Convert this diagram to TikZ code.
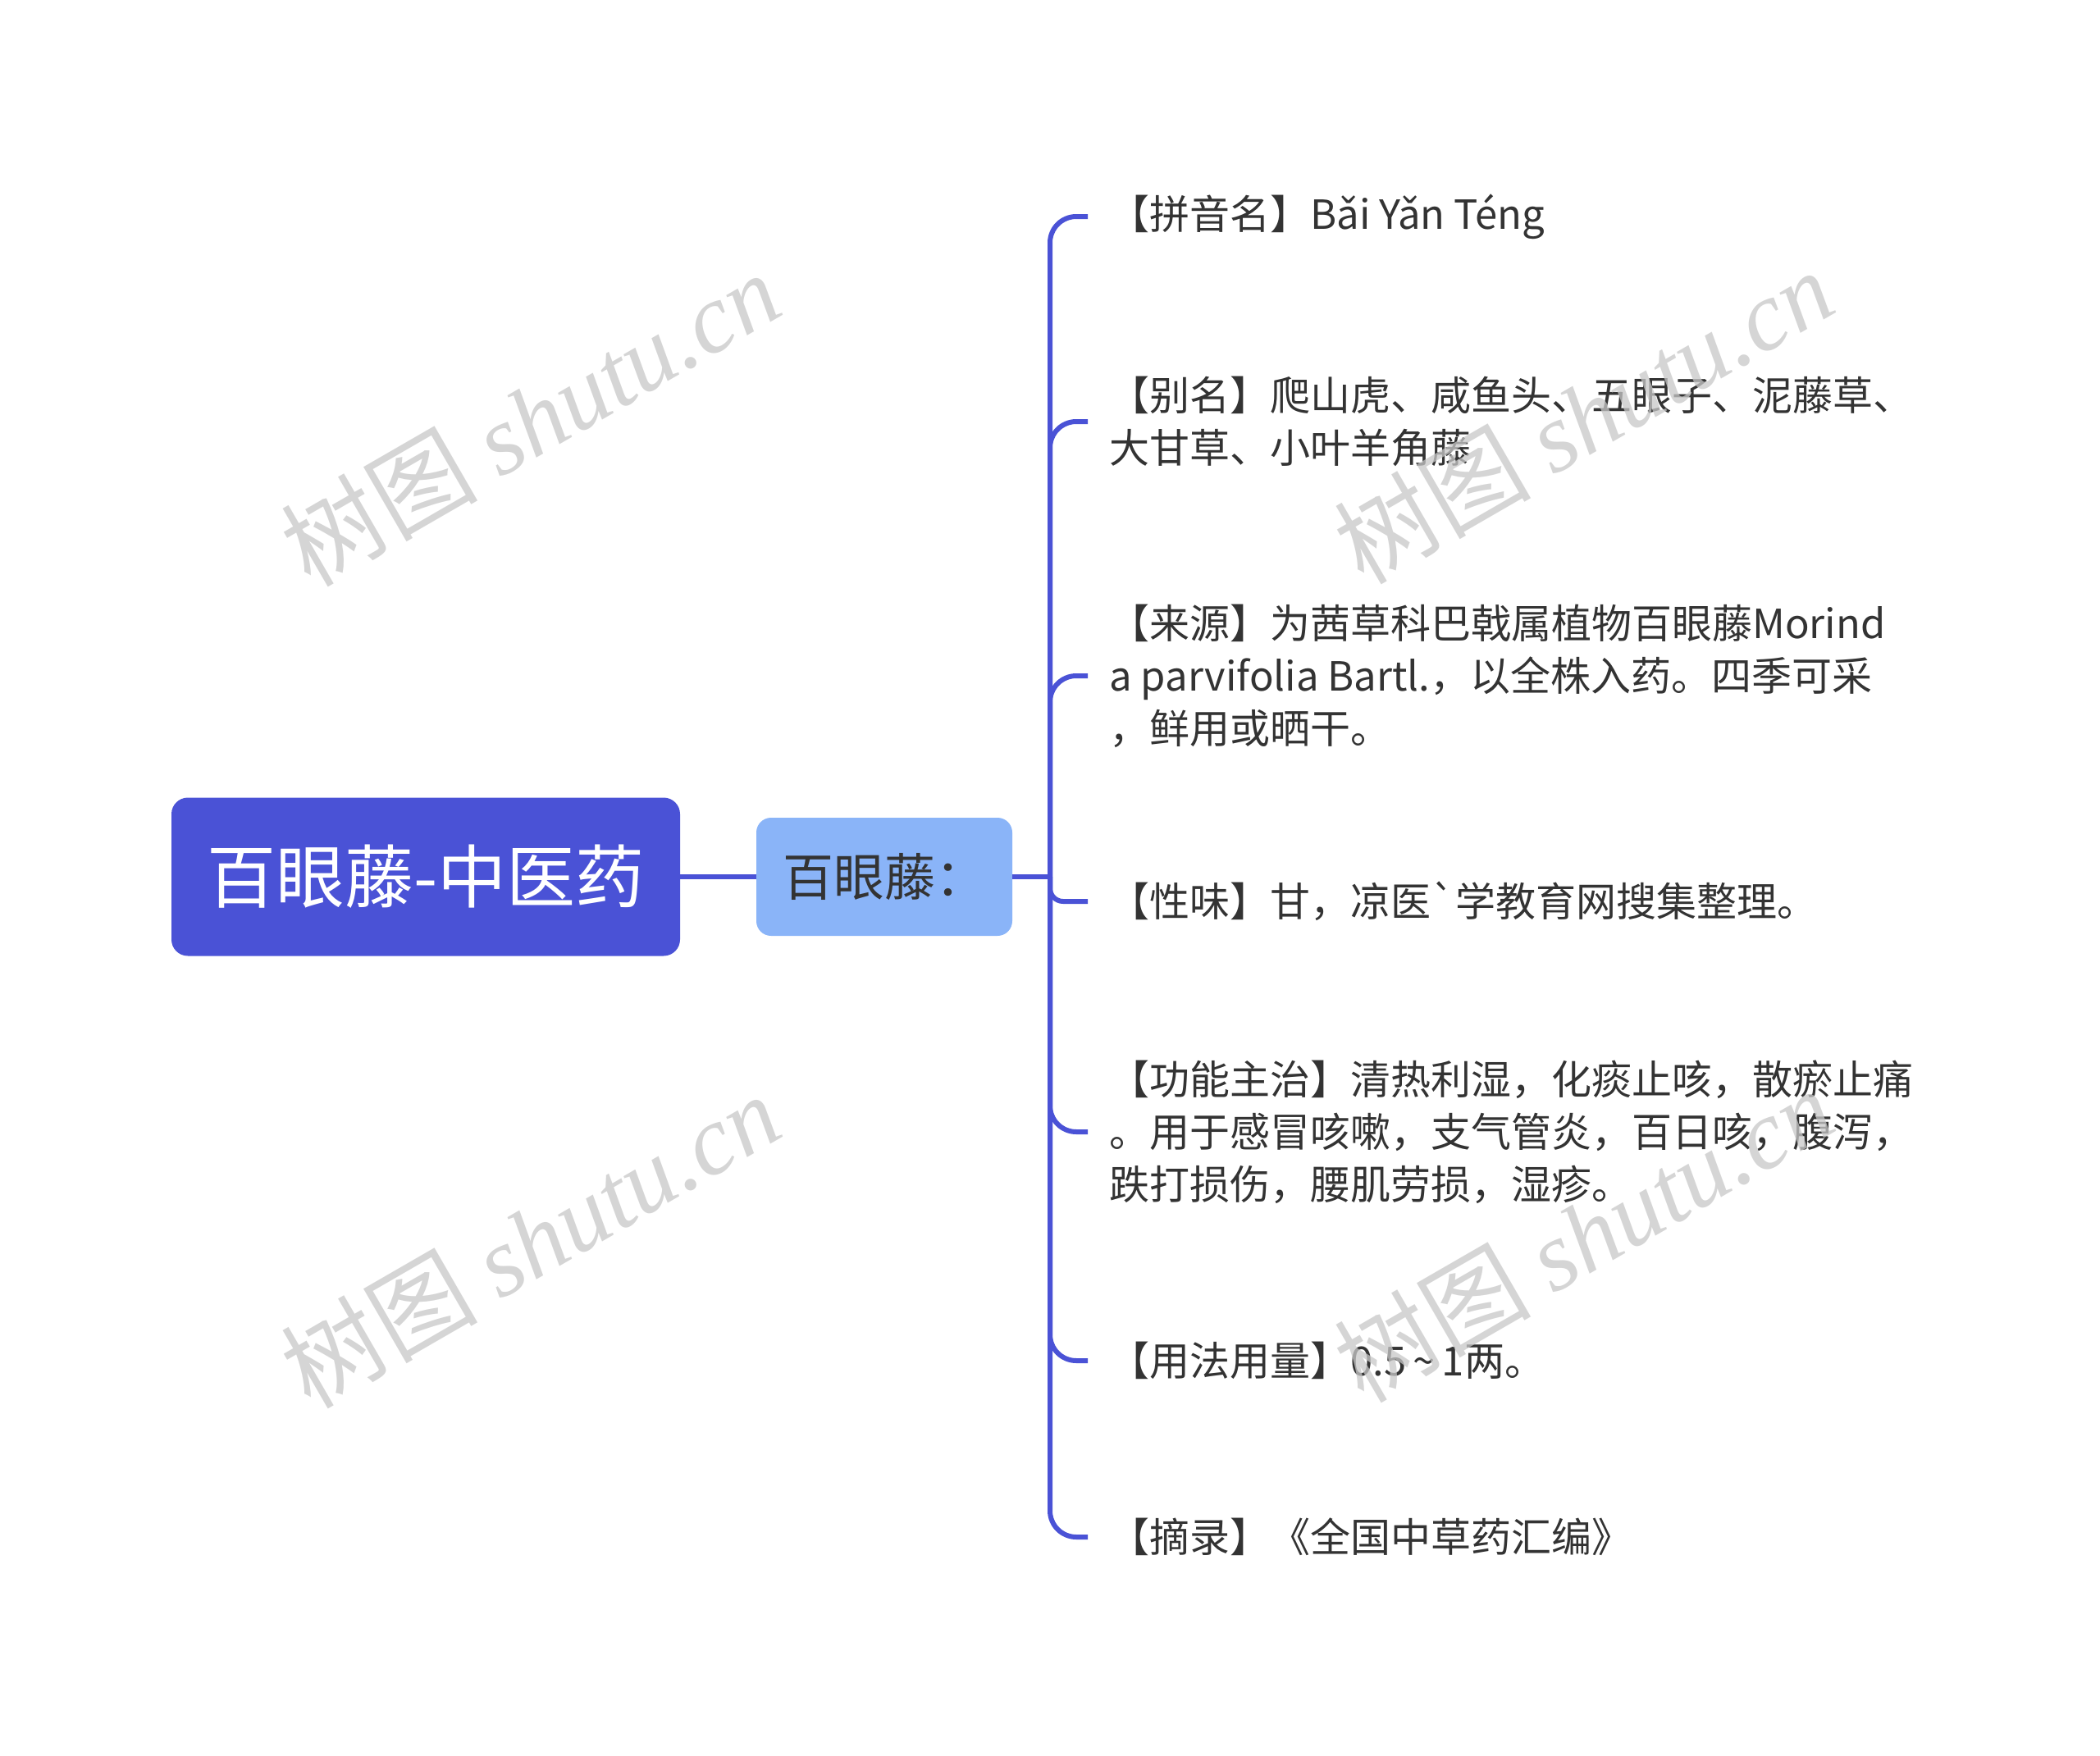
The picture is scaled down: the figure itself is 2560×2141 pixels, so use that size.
\documentclass[tikz,border=0pt]{standalone}
\usepackage{fontspec}
\newfontfamily\cjk{Noto Sans CJK SC}
\newfontfamily\wmserif{Liberation Serif}
\usetikzlibrary{calc}
\definecolor{rootblue}{HTML}{4A52D6}
\definecolor{subblue}{HTML}{8AB4F8}
\definecolor{txt}{HTML}{333333}
\definecolor{wm}{HTML}{C8C8C8}
\newcommand\lst{\rule[-0.12em]{0pt}{1em}}
\begin{document}
\begin{tikzpicture}[x=0.5pt,y=-0.5pt,
  rootnode/.style={fill=rootblue, rounded corners=10pt, minimum width=310pt, minimum height=96.5pt, text=white, inner sep=0pt, font=\cjk\fontsize{42}{50}\selectfont},
  subnode/.style={fill=subblue, rounded corners=9pt, minimum width=156pt, minimum height=72pt, text=txt, inner sep=0pt, font=\cjk\fontsize{31}{38}\selectfont},
  leaf/.style={anchor=west, inner sep=0pt, align=left, text=txt, font=\cjk\fontsize{24.5}{32}\selectfont},
  conn/.style={draw=rootblue, line width=3pt},
  brch/.style={conn, rounded corners=16pt},
  wmark/.style={text=wm, opacity=0.75, rotate=30, inner sep=0pt, font=\fontsize{60}{64}\selectfont}]
\useasboundingbox (0,0) rectangle (2560,2141);
\fill[white] (0,0) rectangle (2560,2141);

\node[rootnode] (root) at (519,1069) {\lst 百眼藤-中医药};
\node[subnode] (sub) at (1078,1069) {\lst 百眼藤：};

\node[leaf] (l1) at (1352,264) {\lst 【拼音名】Bǎi Yǎn Téng};
\node[leaf] (l2) at (1352,514) {\lst 【别名】爬山虎、咸鱼头、五眼子、泥藤草、\\\lst 大甘草、小叶羊角藤};
\node[leaf] (l3) at (1352,824) {\lst 【来源】为茜草科巴戟属植物百眼藤Morind\\\lst a parvifolia Bartl.，以全株入药。四季可采\\\lst ，鲜用或晒干。};
\node[leaf] (l4) at (1352,1099) {\lst 【性味】甘，凉医`学教育网搜集整理。};
\node[leaf] (l5) at (1352,1380) {\lst 【功能主治】清热利湿，化痰止咳，散瘀止痛\\\lst 。用于感冒咳嗽，支气管炎，百日咳，腹泻，\\\lst 跌打损伤，腰肌劳损，湿疹。};
\node[leaf] (l6) at (1352,1659) {\lst 【用法用量】0.5\,\textasciitilde\,1两。};
\node[leaf] (l7) at (1352,1874) {\lst 【摘录】《全国中草药汇编》};

\coordinate (J) at (1280,1069);
\draw[conn] (root.east) -- (sub.west);
\draw[conn] (sub.east) -- (J);
\foreach \n in {l1,l2,l3,l5,l6,l7}{
  \draw[brch] (J) |- ([xshift=-13pt]\n.west);
}
\draw[conn, rounded corners=8pt] (J) |- ([xshift=-13pt]l4.west);

\node[wmark] (w1) at (646,510) {\cjk 树图 \wmserif\itshape shutu.cn};
\node[wmark] (w2) at (646,1512) {\cjk 树图 \wmserif\itshape shutu.cn};
\node[wmark] (w3) at (1930,507) {\cjk 树图 \wmserif\itshape shutu.cn};
\node[wmark] (w4) at (1930,1505) {\cjk 树图 \wmserif\itshape shutu.cn};
\end{tikzpicture}
\end{document}
